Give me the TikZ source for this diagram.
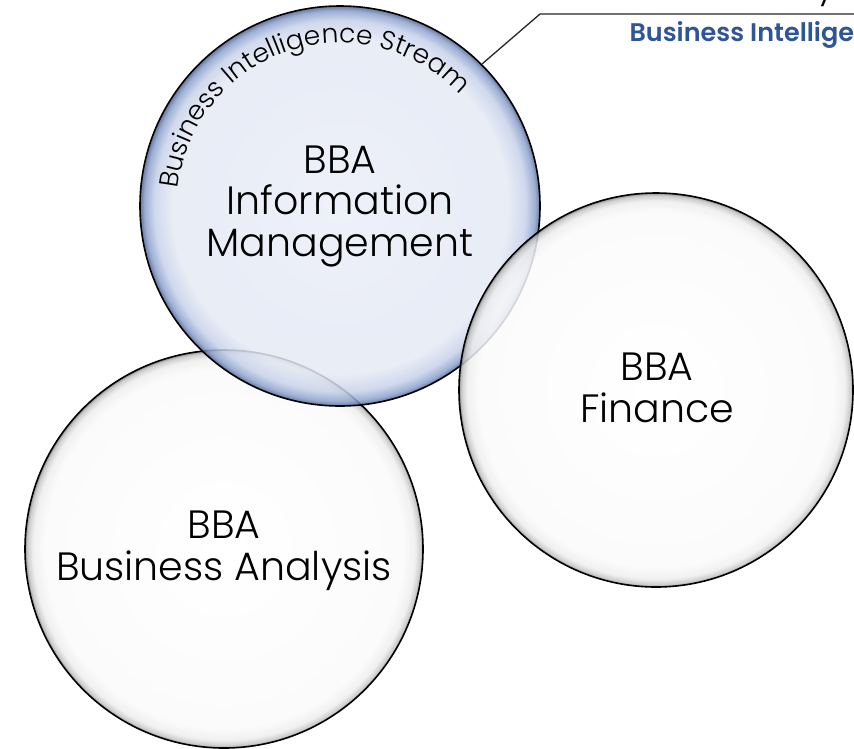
\documentclass[tikz,border=0pt]{standalone}
\usepackage{fontspec}
\setmainfont{Poppins}[UprightFont=* Light, BoldFont=* SemiBold]
\usetikzlibrary{decorations.text}
\definecolor{bbA}{HTML}{EBEFF8}
\definecolor{bbB}{HTML}{E5EAF5}
\definecolor{bbC}{HTML}{C8D2EA}
\definecolor{bbD}{HTML}{8DA2CE}
\definecolor{bbE}{HTML}{4E6290}
\definecolor{wbA}{HTML}{FFFFFF}
\definecolor{wbB}{HTML}{FBFBFB}
\definecolor{wbC}{HTML}{EEEEEE}
\definecolor{wbD}{HTML}{C4C4C4}
\definecolor{wbE}{HTML}{808080}
\definecolor{titleblue}{HTML}{2F5597}
\pgfdeclareradialshading{bubbleblue}{\pgfpoint{0bp}{0bp}}{color(0bp)=(bbA); color(21bp)=(bbB); color(23.2bp)=(bbC); color(24.4bp)=(bbD); color(25bp)=(bbE); color(50bp)=(bbE)}
\pgfdeclareradialshading{bubblewhite}{\pgfpoint{0bp}{0bp}}{color(0bp)=(wbA); color(22.5bp)=(wbB); color(24bp)=(wbC); color(24.7bp)=(wbD); color(25bp)=(wbE); color(50bp)=(wbE)}
\tikzset{
  bubble/.style={circle, draw=black, line width=1.6pt, inner sep=0pt, fill opacity=0.85},
  bluebubble/.style={bubble, shading=bubbleblue},
  whitebubble/.style={bubble, shading=bubblewhite},
  bigtext/.style={align=center, font=\fontsize{39.5}{41.5}\selectfont, text=black},
  callout/.style={draw=black!85, line width=1.3pt},
  heading/.style={font=\fontsize{25.5}{28}\selectfont\bfseries, text=titleblue, anchor=west}
}
\begin{document}
\begin{tikzpicture}[x=1pt,y=1pt]
\useasboundingbox (0,0) rectangle (854,-748);
\clip (0,0) rectangle (854,-748);
\fill[white] (0,0) rectangle (854,-748);
% bubbles
\node[whitebubble, minimum size=398pt] (ba) at (224,-549) {};
\node[bluebubble, minimum size=400pt] (im) at (340,-206) {};
\node[whitebubble, minimum size=394pt] (fi) at (656,-390) {};
% texts
\node[bigtext] (imt) at (340,-206) {BBA\\Information\\Management};
\node[bigtext] (fit) at (657,-388) {BBA\\Finance};
\node[bigtext] (bat) at (224,-551) {BBA\\Business Analysis};
% curved label
\path[decorate, decoration={text along path, text align=left,
  text={|\fontsize{26.5}{28}\selectfont|Business Intelligence Stream}}]
  ([shift={(174:163pt)}]im.center) arc[start angle=174, end angle=40, radius=163pt];
% callout
\coordinate (bend) at (540,-14);
\coordinate (lend) at (854,-14);
\draw[callout] (im.45) -- (bend) -- (lend);
\node[heading] (head) at (626,-35) {Business Intelligence};
\node[font=\fontsize{36}{40}\selectfont, anchor=base] (ytop) at (826,3) {y};
\end{tikzpicture}
\end{document}
